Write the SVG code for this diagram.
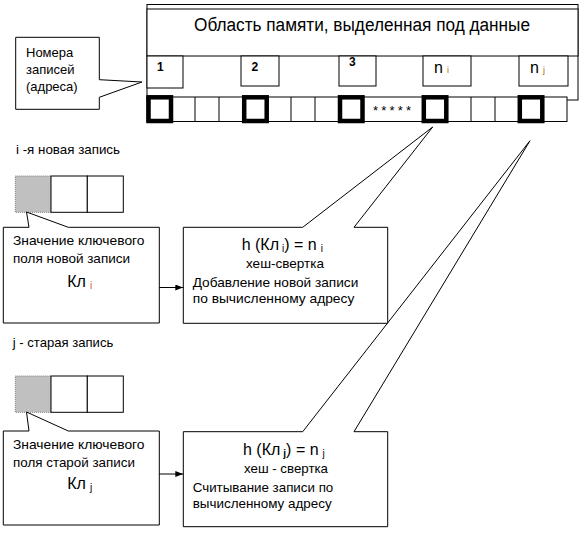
<svg xmlns="http://www.w3.org/2000/svg" width="586" height="535" viewBox="0 0 586 535">
<style>
text{font-family:"Liberation Sans",Arial,sans-serif;fill:#000}
.sh{fill:#fff;stroke:#000;stroke-width:1}
.bold{fill:none;stroke:#000;stroke-width:4.5}
.t13{font-size:13px}
.lbl{font-size:12px;font-weight:bold}
.sub{fill:#c55a11}
.gray{fill:#c0c0c0;stroke:#808080;stroke-width:1;stroke-dasharray:1 1}
.con{stroke:#000;stroke-width:1;fill:none}
</style>
<defs>
<marker id="ah" viewBox="0 0 8 6" refX="8" refY="3" markerWidth="8" markerHeight="6" markerUnits="userSpaceOnUse" orient="auto">
<path d="M0,0 L8,3 L0,6 z" fill="#000"/>
</marker>
</defs>

<g id="memory">
<rect class="sh" x="147" y="4.5" width="431" height="95.5"/>
<rect class="sh" x="147" y="9" width="431" height="47"/>
<text x="194" y="31" font-size="18" textLength="336" lengthAdjust="spacingAndGlyphs">Область памяти, выделенная под данные</text>
</g>

<g id="labels">
<rect class="sh" x="147" y="56" width="36" height="32"/>
<text class="lbl" x="157" y="71">1</text>
<rect class="sh" x="241" y="56" width="38" height="30"/>
<text class="lbl" x="251.5" y="71">2</text>
<rect class="sh" x="339" y="56" width="37" height="30"/>
<text class="lbl" x="349" y="66" font-size="10">3</text>
<rect class="sh" x="423" y="56" width="48" height="30"/>
<text x="434" y="73" font-size="16" fill="#222">n<tspan class="sub" font-size="9" dx="4">i</tspan></text>
<rect class="sh" x="519" y="56" width="49" height="30"/>
<text x="530" y="73" font-size="16" fill="#222">n<tspan class="sub" font-size="9" dx="4">j</tspan></text>
</g>

<g id="cells">
<rect class="sh" x="147" y="97" width="420" height="24.5"/>
<path class="con" d="M171,97V121.5M195,97V121.5M219,97V121.5M243,97V121.5M267,97V121.5M291,97V121.5M315,97V121.5M339,97V121.5M363,97V121.5M423,97V121.5M447,97V121.5M471,97V121.5M495,97V121.5M519,97V121.5M543,97V121.5"/>
<rect class="bold" x="148.5" y="97.3" width="22.5" height="23.7"/>
<rect class="bold" x="244.2" y="97.3" width="22.5" height="23.7"/>
<rect class="bold" x="340" y="97.3" width="22.5" height="23.7"/>
<rect class="bold" x="423.8" y="97.3" width="22.5" height="23.7"/>
<rect class="bold" x="519.8" y="97.3" width="22.5" height="23.7"/>
<text x="373" y="115" font-size="13" fill="#843c0c" textLength="38" lengthAdjust="spacing">*****</text>
</g>

<g id="addresses-callout">
<path class="sh" d="M15.7,37.3H99.3V79.7L142,82L99.3,97.3V109.3H15.7Z"/>
<text class="t13" x="26" y="57">Номера</text>
<text class="t13" x="26" y="74">записей</text>
<text class="t13" x="26" y="91">(адреса)</text>
</g>

<g id="record-i">
<text class="t13" x="16" y="154" textLength="104" lengthAdjust="spacingAndGlyphs">i -я новая запись</text>
<rect class="gray" x="15.3" y="176" width="35.7" height="36.3"/>
<rect class="sh" x="51" y="176" width="36.3" height="36.3"/>
<rect class="sh" x="87.3" y="176" width="36" height="36.3"/>
</g>

<g id="key-i">
<path class="sh" d="M3.3,227.3H29L26.5,212L68.3,227.3H159.3V323H3.3Z"/>
<text class="t13" x="13" y="245" textLength="131.5" lengthAdjust="spacingAndGlyphs">Значение ключевого</text>
<text class="t13" x="13" y="263" textLength="117" lengthAdjust="spacingAndGlyphs">поля новой записи</text>
<text x="67.3" y="287" font-size="16">Кл<tspan class="sub" font-size="10" dx="4" dy="2">i</tspan></text>
</g>

<g id="hash-j">
<path class="sh" d="M183.3,431.7H302.7L530,140.7L354,431.7H387.7V526.7H183.3Z"/>
<text x="243" y="455" font-size="16">h (Кл<tspan font-size="10" dx="3" dy="2" font-weight="bold">j</tspan><tspan dy="-2">) = n</tspan><tspan font-size="10" dx="4" dy="2">j</tspan></text>
<text class="t13" x="244" y="473" textLength="84" lengthAdjust="spacingAndGlyphs">хеш - свертка</text>
<text class="t13" x="192.7" y="491.5" textLength="140.6" lengthAdjust="spacingAndGlyphs">Считывание записи по</text>
<text class="t13" x="192.7" y="508.3" textLength="139" lengthAdjust="spacingAndGlyphs">вычисленному адресу</text>
</g>

<g id="hash-i">
<path class="sh" d="M183.3,227.3H302.7L432.7,127L354,227.3H387.7V323.3H183.3Z"/>
<text x="241.7" y="250" font-size="16">h (Кл<tspan font-size="10" dx="3" dy="2">i</tspan><tspan dy="-2">) = n</tspan><tspan font-size="10" dx="4" dy="2">i</tspan></text>
<text class="t13" x="246" y="268" textLength="78" lengthAdjust="spacingAndGlyphs">хеш-свертка</text>
<text class="t13" x="192.7" y="286.5" textLength="165.6" lengthAdjust="spacingAndGlyphs">Добавление новой записи</text>
<text class="t13" x="192.7" y="303.3" textLength="161.6" lengthAdjust="spacingAndGlyphs">по вычисленному адресу</text>
</g>

<g id="record-j">
<text class="t13" x="12.7" y="347" textLength="100.6" lengthAdjust="spacingAndGlyphs">j - старая запись</text>
<rect class="gray" x="15.3" y="376" width="35.7" height="36.3"/>
<rect class="sh" x="51" y="376" width="36.3" height="36.3"/>
<rect class="sh" x="87.3" y="376" width="36" height="36.3"/>
</g>

<g id="key-j">
<path class="sh" d="M3.3,431H29L26.5,412L68.3,431H159.3V525H3.3Z"/>
<text class="t13" x="13" y="449.3" textLength="131.5" lengthAdjust="spacingAndGlyphs">Значение ключевого</text>
<text class="t13" x="13" y="466.7" textLength="122" lengthAdjust="spacingAndGlyphs">поля старой записи</text>
<text x="67.3" y="489.3" font-size="16">Кл<tspan font-size="10" dx="4" dy="2">j</tspan></text>
</g>

<g id="connectors">
<line class="con" x1="159.3" y1="287.5" x2="183.3" y2="287.5" marker-end="url(#ah)"/>
<line class="con" x1="159.3" y1="474" x2="183.3" y2="474" marker-end="url(#ah)"/>
</g>
</svg>
